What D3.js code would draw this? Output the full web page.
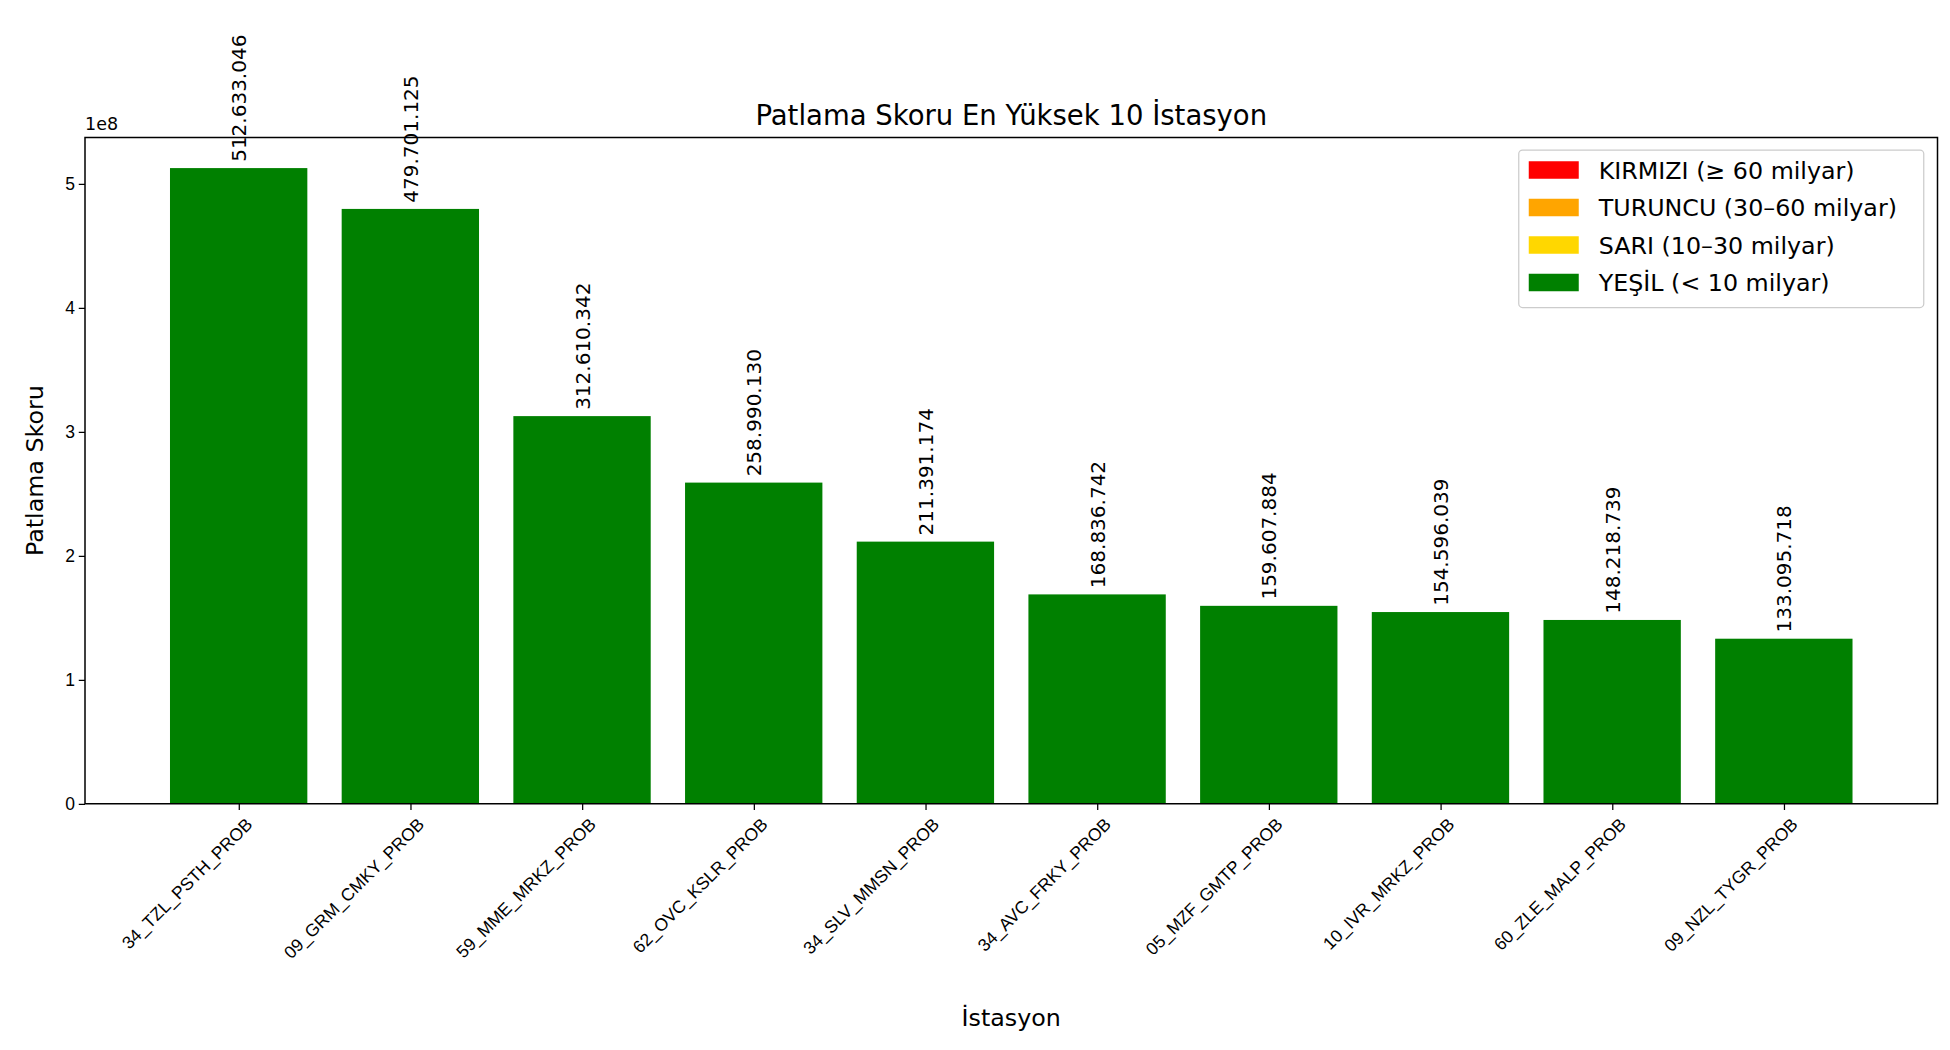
<!DOCTYPE html>
<html><head><meta charset="utf-8">
<script src="https://cdn.jsdelivr.net/npm/d3@7"></script>
<style>body{margin:0;background:#fff}svg{font-family:"DejaVu Sans",sans-serif}</style>
</head><body>
<svg id="chart" width="1950" height="1050" viewBox="0 0 1560 840"></svg>
<script>
const stations = ['34_TZL_PSTH_PROB','09_GRM_CMKY_PROB','59_MME_MRKZ_PROB','62_OVC_KSLR_PROB','34_SLV_MMSN_PROB','34_AVC_FRKY_PROB','05_MZF_GMTP_PROB','10_IVR_MRKZ_PROB','60_ZLE_MALP_PROB','09_NZL_TYGR_PROB']
const scores = [512633046, 479701125, 312610342, 258990130, 211391174, 168836742, 159607884, 154596039, 148218739, 133095718]
const yTicks = [0, 1, 2, 3, 4, 5]
const legendItems = [['KIRMIZI (≥ 60 milyar)', 'red'], ['TURUNCU (30–60 milyar)', 'orange'], ['SARI (10–30 milyar)', 'gold'], ['YEŞİL (< 10 milyar)', 'green']]

function colorFor(v) {
  if (v >= 60e9) return 'red'
  if (v >= 30e9) return 'orange'
  if (v >= 10e9) return 'gold'
  return 'green'
}
function fmt(v) { return d3.format(',')(v).replace(/,/g, '.') }

const svg = d3.select('#chart')
const L = 68, R = 1550, T = 110, B = 643
const x = d3.scaleLinear().domain([-0.895, 9.895]).range([L, R])
const y = d3.scaleLinear().domain([0, 5.373e8]).range([B, T])
const bw = 0.8 * (x(1) - x(0))

svg.selectAll('rect.bar').data(scores).join('rect')
  .attr('x', (d, i) => x(i) - bw / 2).attr('width', bw)
  .attr('y', d => y(d)).attr('height', d => B - y(d))
  .attr('fill', colorFor)

svg.selectAll('text.val').data(scores).join('text')
  .attr('transform', (d, i) => `translate(${x(i) + 6},${y(d) - 5}) rotate(-90)`)
  .attr('font-size', 16).text(fmt)

// axes
const xAxis = svg.append('g').attr('transform', `translate(0,${B})`)
  .call(d3.axisBottom(x).tickValues(d3.range(10)).tickFormat(i => stations[i]).tickSize(5).tickSizeOuter(0))
xAxis.selectAll('text').attr('font-size', 14).attr('text-anchor', 'end')
  .attr('transform', 'translate(8,14) rotate(-45)').attr('dy', '0.35em').attr('y', 0)
const yAxis = svg.append('g').attr('transform', `translate(${L},0)`)
  .call(d3.axisLeft(y).tickValues(yTicks.map(t => t * 1e8)).tickFormat(d => d / 1e8).tickSize(5).tickSizeOuter(0))
yAxis.selectAll('text').attr('font-size', 14)
svg.selectAll('.domain').remove()
svg.append('rect').attr('x', L).attr('y', T).attr('width', R - L).attr('height', B - T)
  .attr('fill', 'none').attr('stroke', '#000').attr('stroke-width', 1.2)

svg.append('text').attr('x', L).attr('y', T - 6).attr('font-size', 14).text('1e8')
svg.append('text').attr('x', (L + R) / 2).attr('y', 100).attr('text-anchor', 'middle')
  .attr('font-size', 22).text('Patlama Skoru En Yüksek 10 İstasyon')
svg.append('text').attr('x', (L + R) / 2).attr('y', 821).attr('text-anchor', 'middle')
  .attr('font-size', 19).text('İstasyon')
svg.append('text').attr('transform', `translate(34,${(T + B) / 2}) rotate(-90)`).attr('text-anchor', 'middle')
  .attr('font-size', 19).text('Patlama Skoru')

// legend
const lg = svg.append('g').attr('transform', 'translate(1215,120)')
lg.append('rect').attr('width', 324).attr('height', 126).attr('rx', 3)
  .attr('fill', '#fff').attr('fill-opacity', 0.8).attr('stroke', '#ccc')
legendItems.forEach(([label, c], i) => {
  lg.append('rect').attr('x', 8).attr('y', 9 + i * 30).attr('width', 40).attr('height', 14).attr('fill', c)
  lg.append('text').attr('x', 64).attr('y', 23 + i * 30).attr('font-size', 19).text(label)
})
</script>
</body></html>
